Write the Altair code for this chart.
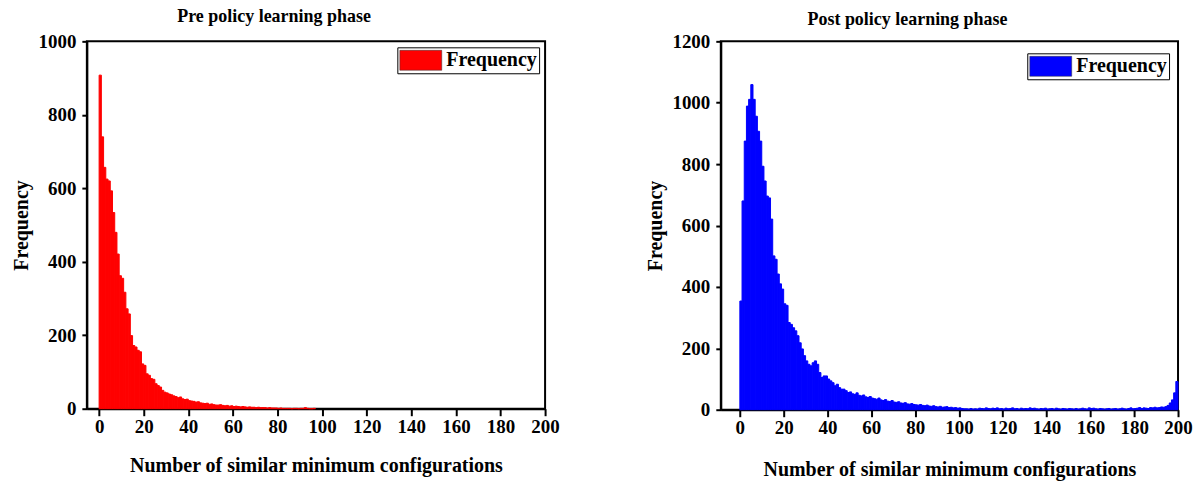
import altair as alt
import pandas as pd

# ---- data ----
pre_counts = [
    908, 740, 657, 625, 620, 593, 534, 480, 421, 362,
    355, 317, 272, 258, 199, 172, 168, 159, 155, 122,
    118, 95, 91, 82, 80, 68, 63, 59, 50, 45,
    43, 40, 38, 35, 33, 30, 32, 27, 25, 26,
    22, 21, 20, 18, 19, 16, 15, 14, 15, 12,
    13, 11, 10, 10, 11, 9, 8, 9, 7, 8,
    6, 7, 6, 5, 6, 5, 4, 5, 4, 4,
    3, 4, 3, 3, 3, 2, 3, 2, 2, 2,
    1, 2, 1, 1, 1, 1, 0, 1, 1, 0,
    1, 1, 3, 1, 0, 0, 1,
]

post_counts = [
    354, 680, 875, 989, 1011, 1059, 1011, 956, 907, 875,
    793, 745, 696, 690, 621, 501, 490, 442, 410, 393,
    345, 340, 284, 278, 267, 257, 241, 218, 198, 176,
    159, 148, 143, 153, 159, 148, 121, 105, 110, 110,
    100, 94, 88, 78, 83, 72, 67, 67, 62, 56,
    58, 52, 50, 55, 47, 45, 48, 42, 40, 43,
    38, 36, 34, 38, 32, 30, 33, 28, 27, 30,
    25, 24, 26, 22, 21, 23, 19, 18, 20, 17,
    16, 15, 17, 14, 13, 15, 12, 11, 13, 10,
    9, 11, 8, 9, 10, 7, 8, 6, 7, 5,
    6, 4, 3, 3, 2, 4, 2, 3, 2, 5,
    4, 3, 6, 4, 3, 5, 4, 6, 3, 4,
    2, 5, 3, 4, 6, 3, 4, 2, 5, 3,
    4, 3, 6, 4, 5, 3, 2, 4, 3, 5,
    2, 3, 4, 2, 5, 3, 2, 4, 3, 2,
    4, 3, 2, 4, 2, 3, 5, 3, 2, 6,
    4, 5, 3, 2, 4, 3, 2, 3, 4, 2,
    3, 4, 2, 3, 5, 3, 2, 4, 6, 3,
    4, 5, 7, 4, 6, 5, 4, 7, 6, 8,
    6, 7, 9, 8, 10, 14, 22, 32, 55, 92,
]

x_ticks = [0, 20, 40, 60, 80, 100, 120, 140, 160, 180, 200]
pre_y_ticks = [0, 200, 400, 600, 800, 1000]
post_y_ticks = [0, 200, 400, 600, 800, 1000, 1200]

series_name = "Frequency"
pre_title = "Pre policy learning phase"
post_title = "Post policy learning phase"
x_title = "Number of similar minimum configurations"
y_title = "Frequency"

FONT = "Liberation Serif"


def panel(counts, color, title, ydomain, yticks, xdomain, width, height,
          title_offset, legend_x, legend_y, x_title_pad):
    df = pd.DataFrame({
        "bin": list(range(len(counts))),
        "count": counts,
        "series": [series_name] * len(counts),
    })
    chart = (
        alt.Chart(df)
        .transform_calculate(bin_end="datum.bin + 1", base="0")
        .mark_rect(stroke=color, strokeWidth=1, opacity=1)
        .encode(
            x=alt.X(
                "bin:Q",
                scale=alt.Scale(domain=xdomain, nice=False, zero=False),
                axis=alt.Axis(
                    values=x_ticks, title=x_title, grid=False,
                    tickSize=7, tickWidth=2, tickColor="black",
                    domainColor="black", domainWidth=2,
                    labelPadding=2, titlePadding=x_title_pad,
                    labelFlush=False, format="d",
                    labelFont=FONT, labelFontSize=19, labelFontWeight="bold", labelColor="black",
                    titleFont=FONT, titleFontSize=20, titleFontWeight="bold", titleColor="black",
                ),
            ),
            x2="bin_end:Q",
            y=alt.Y(
                "count:Q",
                scale=alt.Scale(domain=ydomain, nice=False),
                axis=alt.Axis(
                    values=yticks, title=y_title, grid=False,
                    tickSize=5, tickWidth=2, tickColor="black",
                    domainColor="black", domainWidth=2,
                    labelPadding=6, titlePadding=5,
                    minExtent=50, maxExtent=50, format="d",
                    labelFont=FONT, labelFontSize=19, labelFontWeight="bold", labelColor="black",
                    titleFont=FONT, titleFontSize=20, titleFontWeight="bold", titleColor="black",
                ),
            ),
            y2="base:Q",
            color=alt.Color(
                "series:N",
                scale=alt.Scale(domain=[series_name], range=[color]),
                legend=alt.Legend(
                    title=None, orient="none", legendX=legend_x, legendY=legend_y,
                    strokeColor="black", padding=2,
                    symbolType="M-1,-0.95H3V0.95H-1Z", symbolSize=441,
                    symbolStrokeWidth=0.5, symbolStrokeColor="#333333",
                    symbolOpacity=1, labelOffset=25,
                    labelFont=FONT, labelFontSize=20, labelFontWeight="bold",
                    labelColor="black",
                ),
            ),
        )
        .properties(
            width=width, height=height,
            title=alt.TitleParams(title, font=FONT, fontSize=18, fontWeight="bold",
                                  color="black", offset=title_offset, dx=-42),
        )
    )
    return chart


left = panel(pre_counts, "#ff0000", pre_title, [0, 1000], pre_y_ticks, [-5.5, 200],
             459, 368, 6, 311, 6, 19)
right = panel(post_counts, "#0000ff", post_title, [0, 1200], post_y_ticks, [-8.7, 200],
              458, 369, 3, 307, 12, 22)

chart = (
    alt.hconcat(left, right, spacing=84)
    .resolve_scale(color="independent", x="independent", y="independent")
    .resolve_legend(color="independent")
    .properties(padding={"left": 11, "top": 7, "right": 0, "bottom": 0}, background="white")
    .configure_view(stroke="black", strokeWidth=2)
)

chart.save("out.html", embed_options={"renderer": "svg", "actions": False})
